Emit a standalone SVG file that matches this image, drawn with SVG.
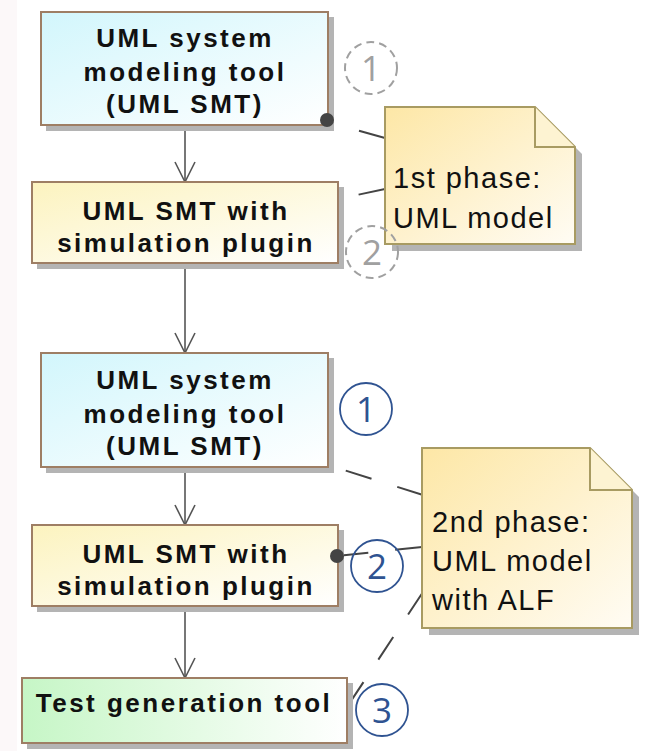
<svg xmlns="http://www.w3.org/2000/svg" width="645" height="751" viewBox="0 0 645 751">
  <defs>
    <linearGradient id="gCyan" x1="0" y1="0" x2="1" y2="1">
      <stop offset="0" stop-color="#d2f6fc"/>
      <stop offset="1" stop-color="#ffffff"/>
    </linearGradient>
    <linearGradient id="gYellow" x1="0" y1="0" x2="1" y2="1">
      <stop offset="0" stop-color="#fcf3bf"/>
      <stop offset="1" stop-color="#ffffff"/>
    </linearGradient>
    <linearGradient id="gGreen" x1="0" y1="0" x2="1" y2="0">
      <stop offset="0" stop-color="#c6f6c6"/>
      <stop offset="1" stop-color="#ffffff"/>
    </linearGradient>
    <linearGradient id="gNote" x1="0" y1="0" x2="1" y2="1">
      <stop offset="0" stop-color="#fde7a6"/>
      <stop offset="1" stop-color="#fffcf4"/>
    </linearGradient>
    <!-- open V arrowhead, pointing along +x -->
    <marker id="open" markerWidth="24" markerHeight="24" refX="21" refY="12" orient="auto" markerUnits="userSpaceOnUse" viewBox="0 0 24 24">
      <path d="M1,2 L21,12 L1,22" fill="none" stroke="#555" stroke-width="1.6"/>
    </marker>
  </defs>
  <style>
    .box { stroke: #9e7e64; stroke-width: 2; }
    .shadow { fill: #b4b4b4; }
    .lbl { font-family: "Liberation Sans", Arial, sans-serif; font-weight: bold; font-size: 26px; letter-spacing: 2.5px; fill: #111; text-anchor: middle; }
    .note { fill: url(#gNote); stroke: #a89b62; stroke-width: 2; }
    .fold { fill: #fdf3d2; stroke: #a89b62; stroke-width: 2; stroke-linejoin: miter; }
    .ntxt { font-family: "Liberation Sans", Arial, sans-serif; font-size: 29px; letter-spacing: 1.5px; fill: #111; }
    .flow { stroke: #555; stroke-width: 1.6; fill: none; }
    .anchor { stroke: #444; stroke-width: 2; fill: none; stroke-dasharray: 27 27; }
    .dot { fill: #444; }
    .num { fill: none; stroke: #2f5391; stroke-width: 1.8; }
    .numt { font-family: "Open Sans", "Noto Sans", sans-serif; font-size: 35px; fill: #2f5391; text-anchor: middle; }
    .pnum { fill: none; stroke: #a0a0a0; stroke-width: 2; stroke-dasharray: 8 5; }
    .pnumt { font-family: "Open Sans", "Noto Sans", sans-serif; font-size: 35px; fill: #a0a0a0; text-anchor: middle; }
  </style>

  <!-- page margin strip -->
  <rect x="0" y="0" width="645" height="751" fill="#ffffff"/>
  <rect x="0" y="0" width="17" height="751" fill="#fcf8f9"/>

  <!-- note anchors (drawn under the notes) -->
  <g id="anchors">
    <line class="anchor" x1="385" y1="138" x2="328" y2="122"/>
    <line class="anchor" x1="385" y1="189" x2="338" y2="199"/>
    <line class="anchor" x1="423" y1="495" x2="328" y2="465"/>
    <line class="anchor" x1="422" y1="547" x2="337" y2="556"/>
    <line class="anchor" x1="423" y1="592" x2="347" y2="707"/>
  </g>

  <!-- control flow -->
  <g id="connectors">
    <line class="flow" x1="185" y1="126" x2="185" y2="182" marker-end="url(#open)"/>
    <line class="flow" x1="185" y1="264" x2="185" y2="353" marker-end="url(#open)"/>
    <line class="flow" x1="185" y1="469" x2="185" y2="525" marker-end="url(#open)"/>
    <line class="flow" x1="185" y1="607" x2="185" y2="678" marker-end="url(#open)"/>
  </g>

  <!-- phase 1 -->
  <g id="smt1">
    <rect class="shadow" x="46" y="17" width="288" height="114"/>
    <rect class="box" x="41" y="12" width="287" height="113" fill="url(#gCyan)"/>
    <text class="lbl" x="185" y="47">UML system</text>
    <text class="lbl" x="185" y="81">modeling tool</text>
    <text class="lbl" x="185" y="113">(UML SMT)</text>
  </g>
  <g id="sim1">
    <rect class="shadow" x="37" y="187" width="307" height="82"/>
    <rect class="box" x="32" y="182" width="306" height="81" fill="url(#gYellow)"/>
    <text class="lbl" x="186" y="220">UML SMT with</text>
    <text class="lbl" x="186" y="252">simulation plugin</text>
  </g>
  <circle class="dot" cx="327" cy="120" r="7"/>
  <g id="note1">
    <path class="shadow" d="M392,114 H542 L582,154 V251 H392 Z"/>
    <path class="note" d="M385,107 H535 L575,147 V244 H385 Z"/>
    <path class="fold" d="M535,107 V147 H575"/>
    <text class="ntxt" x="393" y="188">1st phase:</text>
    <text class="ntxt" x="393" y="228">UML model</text>
  </g>
  <g id="step1a">
    <circle class="pnum" cx="371" cy="68" r="26"/>
    <text class="pnumt" x="371" y="81">1</text>
  </g>
  <g id="step2a">
    <circle class="pnum" cx="372" cy="252" r="26"/>
    <text class="pnumt" x="372" y="265">2</text>
  </g>

  <!-- phase 2 -->
  <g id="smt2">
    <rect class="shadow" x="46" y="358" width="288" height="115"/>
    <rect class="box" x="41" y="353" width="287" height="114" fill="url(#gCyan)"/>
    <text class="lbl" x="185" y="389">UML system</text>
    <text class="lbl" x="185" y="423">modeling tool</text>
    <text class="lbl" x="185" y="455">(UML SMT)</text>
  </g>
  <g id="sim2">
    <rect class="shadow" x="37" y="530" width="307" height="82"/>
    <rect class="box" x="32" y="525" width="306" height="81" fill="url(#gYellow)"/>
    <text class="lbl" x="186" y="563">UML SMT with</text>
    <text class="lbl" x="186" y="595">simulation plugin</text>
  </g>
  <circle class="dot" cx="337" cy="556" r="7"/>
  <g id="testgen">
    <rect class="shadow" x="27" y="683" width="326" height="66"/>
    <rect class="box" x="22" y="678" width="325" height="65" fill="url(#gGreen)"/>
    <text class="lbl" x="184" y="712">Test generation tool</text>
  </g>
  <g id="note2">
    <path class="shadow" d="M429,455 H597 L639,497 V635 H429 Z"/>
    <path class="note" d="M422,448 H590 L632,490 V628 H422 Z"/>
    <path class="fold" d="M590,448 V490 H632"/>
    <text class="ntxt" x="432" y="532">2nd phase:</text>
    <text class="ntxt" x="432" y="571">UML model</text>
    <text class="ntxt" x="432" y="610">with ALF</text>
  </g>
  <g id="step1b">
    <circle class="num" cx="366" cy="409" r="26"/>
    <text class="numt" x="366" y="422">1</text>
  </g>
  <g id="step2b">
    <circle class="num" cx="377" cy="566" r="26"/>
    <text class="numt" x="377" y="579">2</text>
  </g>
  <g id="step3">
    <circle class="num" cx="382" cy="710" r="26"/>
    <text class="numt" x="382" y="723">3</text>
  </g>
</svg>
